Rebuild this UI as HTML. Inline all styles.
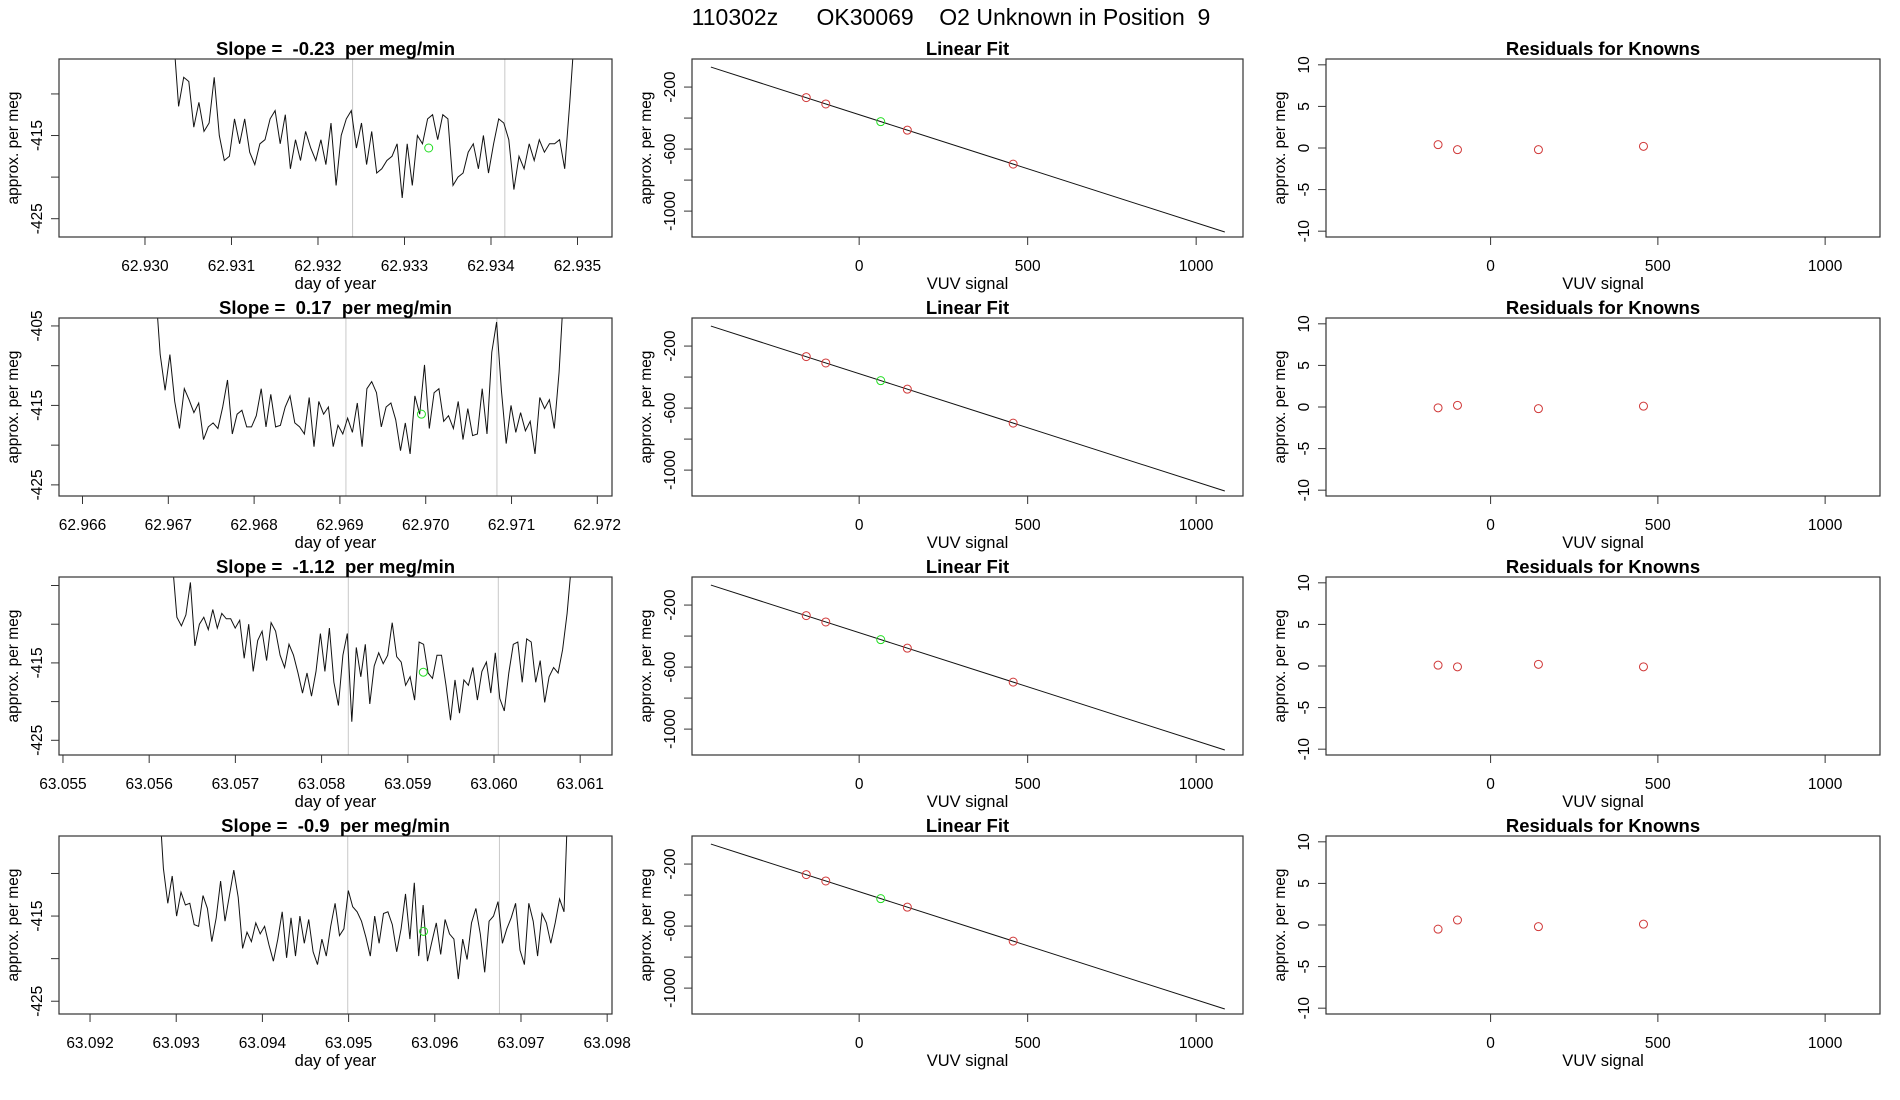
<!DOCTYPE html>
<html><head><meta charset="utf-8"><style>
html,body{margin:0;padding:0;background:#fff;}
svg{display:block;font-family:"Liberation Sans",sans-serif;}
text{white-space:pre;}
</style></head><body>
<svg id="chart" width="1900" height="1100" viewBox="0 0 1900 1100" xmlns="http://www.w3.org/2000/svg">
<text x="951" y="25" font-size="23" text-anchor="middle" style="white-space:pre">110302z      OK30069    O2 Unknown in Position  9</text>
</svg>
<script>
// ---- data ----
const slopeLabels = ["-0.23", "0.17", "-1.12", "-0.9"];
const tStart = [62.93033, 62.96685, 63.05627, 63.0928];
const tEnd = [62.93497, 62.97161, 63.06090, 63.09755];
const series1 = [-403,-411.5,-408,-408.5,-414,-411,-414.5,-413.5,-408,-415,-418,-417.5,-413,-416,-413,-417,-418.5,-416,-415.5,-413,-412,-416,-412.5,-419,-415.5,-418,-414.5,-416.5,-418,-415.5,-418.5,-413.5,-421,-415,-413,-412,-416.5,-413.5,-418.5,-414.5,-419.5,-419,-418,-417.5,-416,-422.5,-416,-421,-415,-416,-413,-412.5,-415.5,-412.5,-413,-421,-420,-419.5,-417,-416,-419,-415,-419.5,-416,-413,-413.5,-415.5,-421.5,-417.5,-419,-416,-418,-415.5,-417,-416,-416,-415.5,-419,-411,-402];
const series2 = [-400,-408.6,-413.1,-408.6,-414.5,-417.9,-412.9,-414.3,-415.9,-414.7,-419.3,-417.7,-417.2,-417.9,-415.2,-411.8,-418.6,-416.1,-415.6,-417.7,-417.7,-416.3,-412.9,-417.7,-413.6,-417.7,-417.5,-415.2,-413.8,-417.2,-417.7,-418.6,-414.0,-420.2,-414.5,-416.1,-415.2,-420.2,-417.5,-418.6,-416.6,-418.4,-414.7,-420.2,-412.9,-412.0,-413.4,-417.7,-415.2,-414.7,-416.8,-420.7,-417.2,-421.1,-413.8,-416.1,-409.9,-417.9,-413.4,-412.9,-417.0,-416.3,-417.9,-414.5,-419.3,-415.4,-418.8,-418.6,-412.9,-418.6,-408.3,-404.5,-413.1,-419.8,-415.0,-418.4,-415.9,-418.2,-417.0,-421.1,-414.0,-415.4,-414.3,-417.9,-410.8,-400];
const series3 = [-402,-409.1,-410.2,-408.8,-404.6,-412.8,-410.0,-409.1,-410.7,-408.1,-410.5,-408.6,-409.3,-409.3,-410.5,-409.5,-414.4,-410.0,-416.1,-412.1,-410.9,-414.7,-409.8,-410.9,-414.0,-415.6,-412.6,-414.0,-416.3,-418.9,-416.3,-419.3,-416.1,-411.2,-416.1,-410.5,-417.5,-420.5,-414.0,-411.2,-422.6,-413.0,-416.8,-412.6,-420.3,-415.4,-413.7,-415.1,-414.0,-409.8,-414.2,-414.9,-417.9,-416.8,-419.8,-412.3,-412.6,-416.3,-417.0,-414.0,-414.0,-417.9,-422.4,-417.2,-421.5,-417.2,-417.9,-415.6,-419.8,-416.1,-414.9,-418.9,-413.7,-419.6,-421.2,-416.3,-412.6,-412.3,-417.5,-411.9,-412.3,-417.5,-414.7,-420.1,-416.8,-415.6,-416.3,-413.3,-408.6,-402];
const series4 = [-401,-409.4,-413.5,-410.3,-415.0,-412.2,-413.7,-413.5,-416.0,-416.2,-412.6,-414.1,-418.0,-415.2,-410.9,-415.6,-412.6,-409.6,-412.8,-418.8,-416.9,-418.0,-415.8,-417.1,-416.2,-418.4,-420.3,-417.7,-414.5,-419.9,-415.2,-419.7,-415.0,-418.2,-415.4,-419.2,-420.7,-417.7,-419.7,-416.2,-413.5,-417.3,-416.5,-412.0,-413.9,-414.5,-415.6,-417.5,-419.7,-415.0,-418.2,-414.7,-414.5,-416.0,-419.2,-416.5,-412.4,-417.7,-411.1,-419.7,-413.7,-420.3,-418.0,-415.8,-419.5,-415.4,-417.1,-417.7,-422.4,-417.7,-420.1,-415.8,-414.1,-417.1,-421.6,-415.6,-415.0,-413.3,-418.2,-416.5,-415.2,-413.5,-419.0,-420.7,-413.5,-415.6,-419.7,-414.7,-415.8,-418.2,-415.8,-413.0,-414.5,-400];
const seriesAll = [series1, series2, series3, series4];
const xMin = [62.929006, 62.965726, 63.054954, 63.09164];
const xMax = [62.935399, 62.972171, 63.061369, 63.098056];
const yMin = [-427.2, -426.4, -426.9, -426.5];
const yMax = [-405.8, -404.0, -403.9, -405.6];
const xTickStart = [62.930, 62.966, 63.055, 63.092];
const xTickCount = [6, 7, 7, 7];
const grayLine1 = [62.93240, 62.96907, 63.05831, 63.09499];
const grayLine2 = [62.93416, 62.97083, 63.06005, 63.09675];
const unkT = [62.93328, 62.96995, 63.05918, 63.09587];
const unkV = [-416.5, -416.1, -416.2, -416.8];
const yTicksTS = [-425, -420, -415, -410, -405];
const fitX = [-157, -99, 143, 457];
const fitY = [-268, -309, -478, -697];
const unkSignal = [64, 64, 64, 64];
const unkFit = [-423, -423, -423, -423];
const fitLineX = [-440, 1085];
const fitLineY = [-71, -1135];
const fitYTicks = [-200, -400, -600, -800, -1000];
const fitYLabels = ["-200", "", "-600", "", "-1000"];
const sigTicks = [0, 500, 1000];
const resid1 = [0.4, -0.2, -0.2, 0.2];
const resid2 = [-0.1, 0.2, -0.2, 0.1];
const resid3 = [0.1, -0.1, 0.2, -0.1];
const resid4 = [-0.5, 0.6, -0.2, 0.1];
const residAll = [resid1, resid2, resid3, resid4];
const residTicks = [10, 5, 0, -5, -10];

// ---- layout ----
const NS = "http://www.w3.org/2000/svg";
const svg = document.getElementById("chart");
const rowTop = [59, 318, 577, 836];
const BH = 178;
const colL = [59, 692, 1326];
const colR = [612, 1243, 1880];
function mk(tag, attrs, parent, text) {
  const e = document.createElementNS(NS, tag);
  for (const k in attrs) e.setAttribute(k, attrs[k]);
  if (text !== undefined) e.textContent = text;
  (parent || svg).appendChild(e);
  return e;
}
function lin(d0, d1, r0, r1) { return v => r0 + (v - d0) / (d1 - d0) * (r1 - r0); }
const FS = 15.5;

function frame(g, L, T, R, B, title, xlab, ylab) {
  const b = mk("rect", {x: L, y: T, width: R - L, height: B - T, fill: "none", stroke: "#333", "stroke-width": 1.2}, g);
  
  
  const t = mk("text", {x: (L + R) / 2, y: T - 4, "font-size": 18.5, "font-weight": "bold", "text-anchor": "middle"}, g, title);
  
  
  const xl = mk("text", {x: (L + R) / 2, y: B + 52, "font-size": 16.5, "text-anchor": "middle"}, g, xlab);
  
  
  const cy = (T + B) / 2;
  const yl = mk("text", {x: L - 41, y: cy, "font-size": FS, "text-anchor": "middle", transform: `rotate(-90 ${L - 41} ${cy})`}, g, ylab);
  
  
}
function xAxis(g, xs, vals, labels, B) {
  const ax = mk("line", {x1: xs(vals[0]), x2: xs(vals[vals.length - 1]), y1: B, y2: B, stroke: "#333"}, g);
  
  
  vals.forEach((v, i) => {
    const tk = mk("line", {x1: xs(v), x2: xs(v), y1: B, y2: B + 8, stroke: "#333"}, g);
    
    
    const tl = mk("text", {x: xs(v), y: B + 34, "font-size": FS, "text-anchor": "middle"}, g, labels[i]);
    
    
  });
}
function yAxis(g, ys, vals, labels, L) {
  const ax = mk("line", {x1: L, x2: L, y1: ys(vals[0]), y2: ys(vals[vals.length - 1]), stroke: "#333"}, g);
  
  
  vals.forEach((v, i) => {
    const y = ys(v);
    const tk = mk("line", {x1: L - 8, x2: L, y1: y, y2: y, stroke: "#333"}, g);
    
    
    if (labels[i] !== "") {
      const tl = mk("text", {x: L - 17, y: y, "font-size": FS, "text-anchor": "middle", transform: `rotate(-90 ${L - 17} ${y})`}, g, labels[i]);
      
      
    }
  });
}

for (let r = 0; r < 4; r++) {
  const T = rowTop[r], B = T + BH;
  // ---- time series panel ----
  {
    const L = colL[0], R = colR[0];
    const g = mk("g", {});
    
    
    const xs = lin(xMin[r], xMax[r], L, R), ys = lin(yMin[r], yMax[r], B, T);
    const cid = "clipts" + r;
    const cp = mk("clipPath", {id: cid}, g);
    mk("rect", {x: L, y: T, width: R - L, height: BH}, cp);
    [grayLine1[r], grayLine2[r]].forEach(v => {
      const gl = mk("line", {x1: xs(v), x2: xs(v), y1: T, y2: B, stroke: "#c8c8c8", "stroke-width": 1}, g);
      
      
    });
    const s = seriesAll[r], n = s.length, step = (tEnd[r] - tStart[r]) / (n - 1);
    const pts = s.map((v, i) => xs(tStart[r] + i * step).toFixed(1) + "," + ys(v).toFixed(1)).join(" ");
    const pl = mk("polyline", {points: pts, fill: "none", stroke: "#111", "stroke-width": 1, "clip-path": `url(#${cid})`}, g);
    
    
    const uc = mk("circle", {cx: xs(unkT[r]), cy: ys(unkV[r]), r: 4, fill: "none", stroke: "#22dd22", "stroke-width": 1}, g);
    
    
    frame(g, L, T, R, B, "Slope =  " + slopeLabels[r] + "  per meg/min", "day of year", "approx. per meg");
    const tv = [], tl = [];
    for (let i = 0; i < xTickCount[r]; i++) { const v = xTickStart[r] + i * 0.001; tv.push(v); tl.push(v.toFixed(3)); }
    xAxis(g, xs, tv, tl, B);
    const yv = yTicksTS.filter(v => v >= yMin[r] && v <= yMax[r]);
    const ylb = yv.map(v => (v % 10 === 0 ? "" : String(v)));
    if (r !== 1) { ylb[ylb.length - 1] = ""; }
    yAxis(g, ys, yv, ylb.map((l, i) => (r === 1 && (yv[i] === -405) ? "-405" : l)), L);
  }
  // ---- linear fit panel ----
  {
    const L = colL[1], R = colR[1];
    const g = mk("g", {});
    
    
    const xs = lin(-496, 1139, L, R), ys = lin(-1167, -19, B, T);
    const fl = mk("line", {x1: xs(fitLineX[0]), y1: ys(fitLineY[0]), x2: xs(fitLineX[1]), y2: ys(fitLineY[1]), stroke: "#111", "stroke-width": 1}, g);
    
    
    fitX.forEach((x, i) => {
      const c = mk("circle", {cx: xs(x), cy: ys(fitY[i]), r: 4, fill: "none", stroke: "#d03838", "stroke-width": 1}, g);
      
      
    });
    const uc = mk("circle", {cx: xs(unkSignal[r]), cy: ys(unkFit[r]), r: 4, fill: "none", stroke: "#22dd22", "stroke-width": 1}, g);
    
    
    frame(g, L, T, R, B, "Linear Fit", "VUV signal", "approx. per meg");
    xAxis(g, xs, sigTicks, sigTicks.map(String), B);
    yAxis(g, ys, fitYTicks, fitYLabels, L);
  }
  // ---- residuals panel ----
  {
    const L = colL[2], R = colR[2];
    const g = mk("g", {});
    
    
    const xs = lin(-492, 1164, L, R), ys = lin(-10.7, 10.7, B, T);
    residAll[r].forEach((v, i) => {
      const c = mk("circle", {cx: xs(fitX[i]), cy: ys(v), r: 4, fill: "none", stroke: "#d03838", "stroke-width": 1}, g);
      
      
    });
    frame(g, L, T, R, B, "Residuals for Knowns", "VUV signal", "approx. per meg");
    xAxis(g, xs, sigTicks, sigTicks.map(String), B);
    yAxis(g, ys, residTicks, residTicks.map(String), L);
  }
}
</script>
</body></html>
